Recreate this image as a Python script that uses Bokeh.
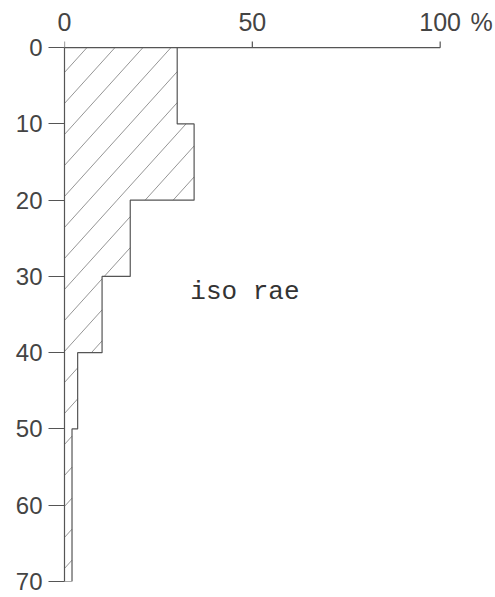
from bokeh.plotting import figure
from bokeh.models import Range1d, FixedTicker, Label
from bokeh.embed import file_html
from bokeh.resources import INLINE

# Data
depth_lo = [0, 10, 20, 30, 40, 50, 60]
depth_hi = [10, 20, 30, 40, 50, 60, 70]
percent = [30, 34.5, 17.5, 10, 3.5, 2, 2]
x_ticks = [0, 50, 100]
unit_tick = 111
y_ticks = [0, 10, 20, 30, 40, 50, 60, 70]
series_label = "iso rae"

ink = "#555555"
X_END = 111
Y_TOP = -1.2
FW = 417
AY = 534 / 70
FH = int(round(AY * (70 - Y_TOP)))

p = figure(frame_width=FW, frame_height=FH,
           min_border_left=64, min_border_top=38, min_border_right=12, min_border_bottom=14,
           x_range=Range1d(0, X_END), y_range=Range1d(70, Y_TOP),
           x_axis_location="above",
           output_backend="svg", toolbar_location=None, tools="")
p.outline_line_color = None
p.grid.visible = False
p.background_fill_color = "white"

# hatching (style only): diagonal strokes clipped to each bar
ax = FW / X_END
ay = FH / (70 - Y_TOP)
hx, hy, ph = 28.0, 31.0, 0.8
hxs, hys = [], []
for v, lo, hi in zip(percent, depth_lo, depth_hi):
    kmax = int(v * ax / hx + hi * ay / hy) + 2
    for n in range(-1, kmax):
        k = n + ph
        xa_ = (k - hi * ay / hy) * hx / ax
        xb_ = (k - lo * ay / hy) * hx / ax
        x0, x1 = max(xa_, 0.0), min(xb_, v)
        if x1 - x0 > 1e-6:
            y0 = (k - x0 * ax / hx) * hy / ay
            y1 = (k - x1 * ax / hx) * hy / ay
            hxs.append([x0, x1])
            hys.append([y0, y1])
p.multi_line(hxs, hys, line_color="#7a7a7a", line_width=0.8)

# step outline of the bars
xs, ys = [], []
for v, lo, hi in zip(percent, depth_lo, depth_hi):
    xs += [v, v]
    ys += [lo, hi]
xs.append(0)
ys.append(depth_hi[-1])
p.line(xs, ys, line_color=ink, line_width=1.2)

# top axis line (0..100) and its small upward ticks
p.segment(x0=[x_ticks[0]], y0=[0], x1=[x_ticks[-1]], y1=[0], line_color=ink, line_width=1.2)
p.segment(x0=x_ticks, y0=[0] * len(x_ticks), x1=x_ticks, y1=[-0.8] * len(x_ticks),
          line_color=ink, line_width=1.2)

xa = p.xaxis[0]
xa.ticker = FixedTicker(ticks=x_ticks + [unit_tick])
xa.major_label_overrides = {unit_tick: "%"}
xa.bounds = (0, X_END)
xa.axis_line_color = None
xa.major_tick_line_color = None
xa.major_tick_out = 0
xa.major_tick_in = 0
xa.minor_tick_line_color = None
xa.major_label_standoff = 3
xa.major_label_text_font = "Liberation Sans"
xa.major_label_text_font_size = "25px"
xa.major_label_text_color = "#444444"

ya = p.yaxis[0]
ya.ticker = FixedTicker(ticks=y_ticks)
ya.bounds = (0, 70)
ya.axis_line_color = ink
ya.axis_line_width = 1.2
ya.major_tick_line_color = ink
ya.major_tick_out = 16
ya.major_tick_in = 0
ya.minor_tick_line_color = None
ya.major_label_standoff = 6
ya.major_label_text_font = "Liberation Sans"
ya.major_label_text_font_size = "24px"
ya.major_label_text_color = "#444444"

p.add_layout(Label(x=33.5, y=32.1, text=series_label, text_align="left", text_baseline="middle",
                   text_font="Liberation Mono", text_font_size="26px", text_color="#333333"))

open("out.html", "w").write(file_html(p, INLINE))
